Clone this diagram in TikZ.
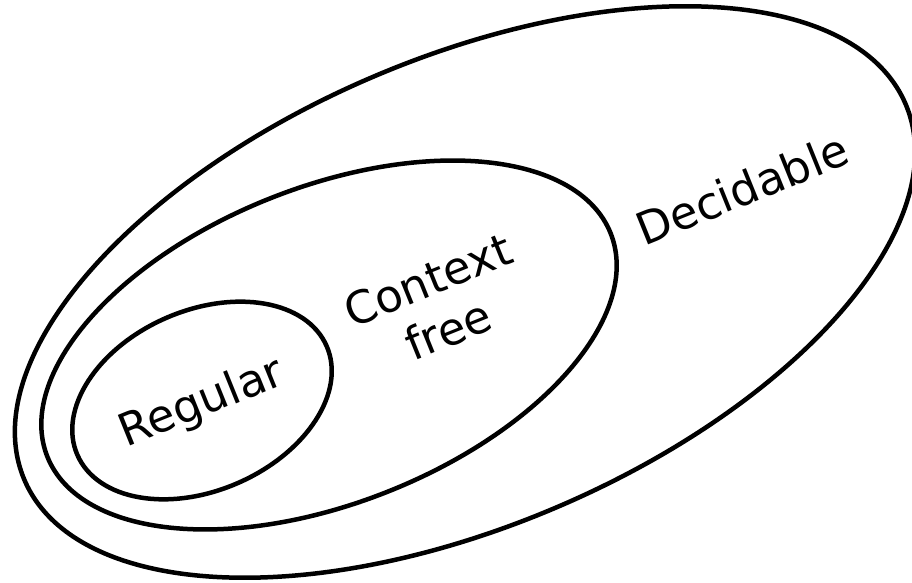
\documentclass[tikz,border=0pt]{standalone}
\usepackage{fontspec}
\setmainfont{DejaVu Sans}
\begin{document}
\begin{tikzpicture}[x=1pt,y=1pt,
  set/.style={draw=black,line width=4.5pt},
  lbl/.style={font=\fontsize{45}{54}\selectfont,align=center,inner sep=0pt}]
\useasboundingbox (0,0) rectangle (912,583);
\draw[set,rotate around={23.1:(465,291)}] (465,291) ellipse [x radius=479,y radius=234];
\draw[set,rotate around={21.6:(329,238)}] (329,238) ellipse [x radius=303,y radius=158];
\draw[set,rotate around={23.6:(202,182.5)}] (202,182.5) ellipse [x radius=136,y radius=90];
\node[lbl,rotate=22] (reg) at (202,179) {Regular};
\node[lbl,rotate=22] (cf) at (438,278) {Context\\free};
\node[lbl,rotate=22] (dec) at (742,394) {Decidable};
\end{tikzpicture}
\end{document}
